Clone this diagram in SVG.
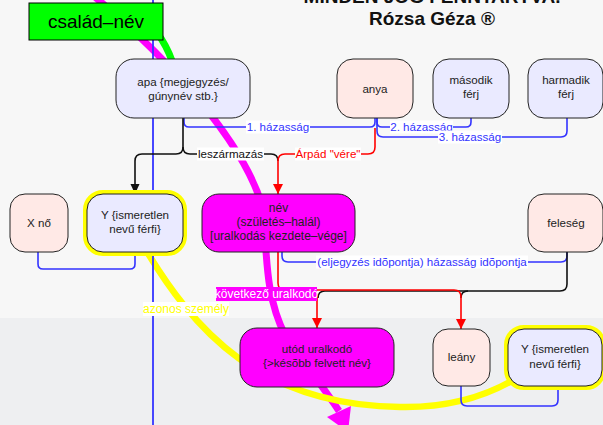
<svg xmlns="http://www.w3.org/2000/svg" width="603" height="425" viewBox="0 0 603 425">
<style>
text{font-family:"Liberation Sans",Arial,sans-serif;}
.b{stroke:#222;stroke-width:1}
.lav{fill:#eaeaff}
.pink{fill:#ffe9e6}
.mag{fill:#ff00ff}
.t{font-size:11.6px;fill:#222;text-anchor:middle}
.t12{font-size:12px;fill:#222;text-anchor:middle}
.lb{font-size:11.6px;text-anchor:middle}
.bl{fill:none;stroke:#3333ff;stroke-width:1.6}
.bk{fill:none;stroke:#111;stroke-width:1.6}
.rd{fill:none;stroke:#ff0000;stroke-width:1.6}
.wbg{fill:#ffffff}
.hl{fill:none;stroke:#ffff00;stroke-width:8}
.title{font-size:19px;font-weight:bold;fill:#111;text-anchor:middle}
</style>
<defs>
<marker id="ak" markerWidth="10" markerHeight="10" refX="10" refY="5" orient="auto" markerUnits="userSpaceOnUse"><path d="M0,0.5 L10,5 L0,9.5 z" fill="#111"/></marker>
<marker id="ar" markerWidth="10" markerHeight="10" refX="10" refY="5" orient="auto" markerUnits="userSpaceOnUse"><path d="M0,0 L10,5 L0,10 z" fill="#ff0000"/></marker>
</defs>
<rect x="0" y="0" width="603" height="318" fill="#f7f7f7"/>
<rect x="0" y="318" width="603" height="107" fill="#eeeff1"/>
<text class="title" x="432" y="3">MINDEN JOG FENNTARTVA.</text>
<text class="title" x="432" y="25">Rózsa Géza ®</text>
<g id="connectors">
<path d="M95,-3 C170,60 242,140 262,205" fill="none" stroke="#ff00ff" stroke-width="7"/>
<path d="M262,205 C268,240 262,290 285,335 C300,358 322,385 339,411" fill="none" stroke="#ff00ff" stroke-width="7"/>
<polygon points="327,417 351,406 348,432" fill="#ff00ff"/>
<path d="M140,15 Q165,35 175,70" fill="none" stroke="#00ff00" stroke-width="7"/>
<path d="M140,240 C195,335 262,405 400,407 C450,408 490,395 520,376" fill="none" stroke="#ffff00" stroke-width="6.5"/>
<line x1="153" y1="0" x2="153" y2="425" stroke="#3333ff" stroke-width="1.8"/>
<path class="bl" d="M184,118 V122 Q184,127 189,127 H370 Q375,127 375,122 V118"/>
<path class="bl" d="M471,118 V122 Q471,127 466,127 H382 Q377,127 377,122 V118"/>
<path class="bl" d="M567,118 V131 Q567,137 561,137 H383 Q377,137 377,131 V118"/>
<path class="bk" d="M183,118 V147 Q183,154 176,154 H142 Q135,154 135,161 V194" marker-end="url(#ak)"/>
<path class="bk" d="M183,147 Q183,154 190,154 H271 Q278,154 278,161"/>
<path class="rd" d="M375,128 V147 Q375,154 368,154 H285 Q278,154 278,161 V194" marker-end="url(#ar)"/>
<path class="bl" d="M38,252 V264 Q38,269 43,269 H130 Q135,269 135,264 V252"/>
<path class="bl" d="M567,252 V256 Q567,262 561,262 H288 Q282,262 282,256 V252"/>
<path class="bk" d="M567,252 V284 Q567,291 560,291 H325 Q318,291 318,298"/>
<path class="bk" d="M468,291 Q461,291 461,298"/>
<path class="rd" d="M278,252 V283 Q278,290 285,290 H454 Q461,290 461,297 V329" marker-end="url(#ar)"/>
<path class="rd" d="M310,290 Q317,290 317,297 V328" marker-end="url(#ar)"/>
<path class="bl" d="M461,386 V400 Q461,406 467,406 H552 Q558,406 558,400 V386"/>
<rect class="wbg" x="246" y="120.5" width="64" height="13"/>
<text class="lb" x="278" y="131" fill="#3333ff">1. házasság</text>
<rect class="wbg" x="390" y="120.5" width="63" height="13"/>
<text class="lb" x="421.5" y="131" fill="#3333ff">2. házasság</text>
<rect class="wbg" x="438" y="130.5" width="64" height="13"/>
<text class="lb" x="470" y="141" fill="#3333ff">3. házasság</text>
<rect class="wbg" x="197" y="147.5" width="67" height="13"/>
<text class="lb" x="230.5" y="158" fill="#111">leszármazás</text>
<rect class="wbg" x="295" y="147.5" width="66" height="13"/>
<text class="lb" x="328" y="158" fill="#ff0000">Árpád "vére"</text>
<rect class="wbg" x="316" y="255.5" width="212" height="13"/>
<text class="lb" x="422" y="266" fill="#3333ff">(eljegyzés idõpontja) házasság idõpontja</text>
<rect x="216" y="287" width="101" height="14" fill="#ff00ff"/>
<text class="lb" x="266.5" y="298" fill="#ffffff" style="font-size:12px">következő uralkodó</text>
<rect class="wbg" x="143" y="302" width="86" height="14"/>
<text class="lb" x="186" y="313" fill="#ffff00" style="font-size:12px">azonos személy</text>
</g>
<g id="csalad-nev">
<rect x="29" y="3" width="134" height="37" fill="#00ff00" stroke="#000" stroke-width="1"/>
<text x="96" y="28" style="font-size:19px;fill:#000;text-anchor:middle">család–név</text>
</g>
<g id="apa">
<rect class="b lav" x="116" y="59" width="134" height="59" rx="18"/>
<text class="t" x="183" y="86">apa {megjegyzés/</text>
<text class="t" x="183" y="100">gúnynév stb.}</text>
</g>
<g id="anya">
<rect class="b pink" x="337" y="59" width="76" height="59" rx="16"/>
<text class="t" x="375" y="93">anya</text>
</g>
<g id="masodik-ferj">
<rect class="b lav" x="433" y="59" width="76" height="59" rx="16"/>
<text class="t" x="471" y="84">második</text>
<text class="t" x="471" y="98">férj</text>
</g>
<g id="harmadik-ferj">
<rect class="b lav" x="528" y="59" width="75" height="59" rx="16"/>
<text class="t" x="566" y="84">harmadik</text>
<text class="t" x="566" y="98">férj</text>
</g>
<g id="x-no">
<rect class="b pink" x="10" y="194" width="58" height="58" rx="15"/>
<text class="t" x="39" y="227">X nő</text>
</g>
<g id="y-ferfi">
<rect class="hl" x="87" y="194" width="96" height="58" rx="16"/>
<rect class="b lav" x="87" y="194" width="96" height="58" rx="16"/>
<text class="t" x="135" y="219">Y {ismeretlen</text>
<text class="t" x="135" y="233">nevű férfi}</text>
</g>
<g id="nev">
<rect class="b mag" x="202" y="194" width="153" height="58" rx="17"/>
<text class="t12" x="278.5" y="212">név</text>
<text class="t12" x="278.5" y="226">(születés–halál)</text>
<text class="t12" x="278.5" y="240">[uralkodás kezdete–vége]</text>
</g>
<g id="feleseg">
<rect class="b pink" x="528" y="194" width="75" height="58" rx="16"/>
<text class="t" x="566" y="227">feleség</text>
</g>
<g id="utod">
<rect class="b mag" x="240" y="328" width="154" height="59" rx="17"/>
<text class="t" x="317" y="353">utód uralkodó</text>
<text class="t" x="317" y="367">{&gt;késõbb felvett név}</text>
</g>
<g id="leany">
<rect class="b pink" x="433" y="329" width="57" height="57" rx="15"/>
<text class="t" x="461.5" y="361">leány</text>
</g>
<g id="y-ferfi-2">
<rect class="hl" x="508" y="329" width="94" height="57" rx="16"/>
<rect class="b lav" x="508" y="329" width="94" height="57" rx="16"/>
<text class="t" x="555" y="353">Y {ismeretlen</text>
<text class="t" x="555" y="368">nevű férfi}</text>
</g>
</svg>
